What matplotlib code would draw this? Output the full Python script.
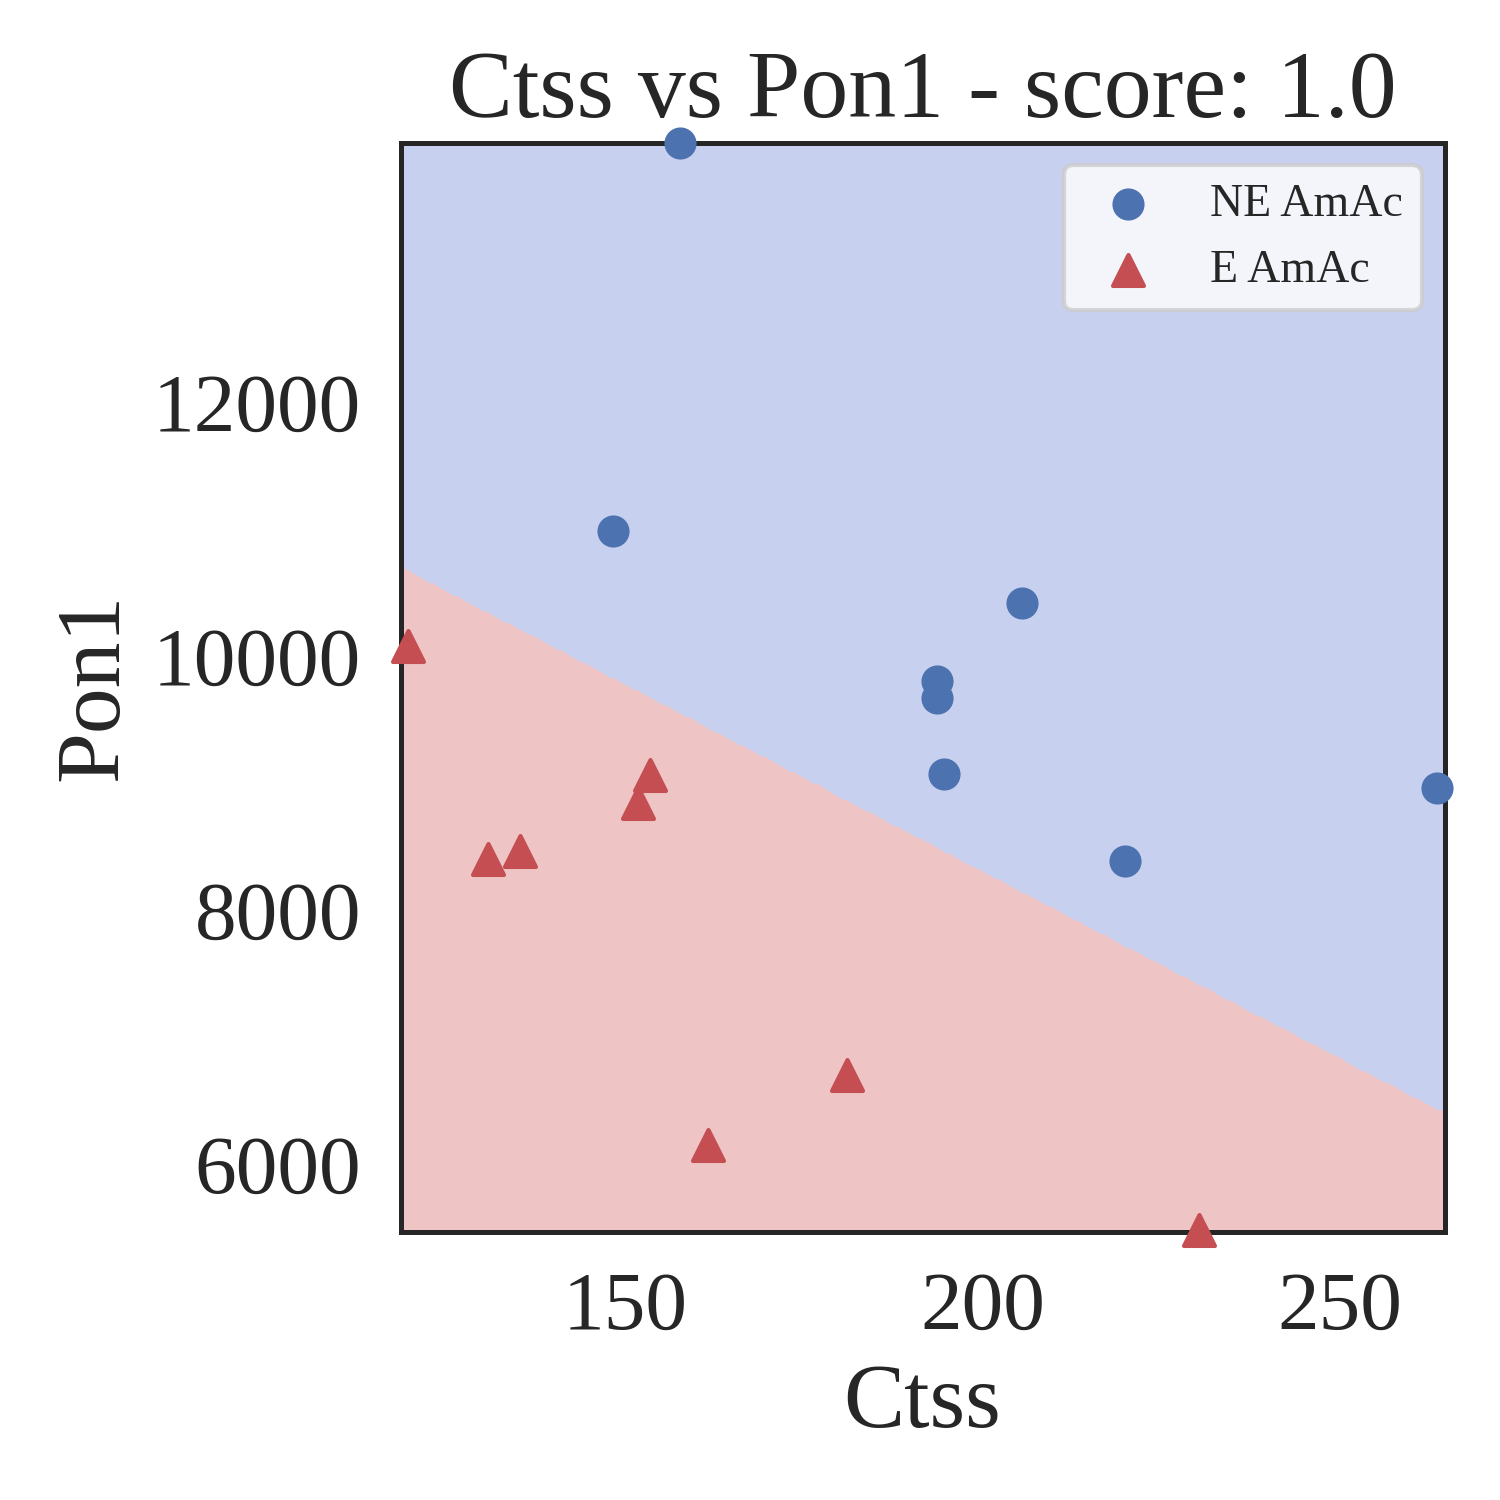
import numpy as np
import matplotlib
matplotlib.use("Agg")
import matplotlib.pyplot as plt
import seaborn as sns
from matplotlib.colors import ListedColormap

sns.set_theme(style="white")
plt.rcParams['font.family'] = ['Liberation Serif', 'DejaVu Serif']

ne_x = [157.7, 148.2, 205.5, 193.6, 193.6, 194.6, 219.9, 263.7]
ne_y = [14047, 10984, 10417, 9803, 9669, 9071, 8386, 8961]
e_x = [119.6, 153.5, 151.7, 130.8, 135.3, 181.0, 161.5, 230.3]
e_y = [10079, 9063, 8843, 8409, 8472, 6701, 6150, 5480]
# decision boundary: Pon1 value at left and right x limits
boundary_x = [118.5, 264.7]
boundary_y = [10709, 6409]

fig = plt.figure(figsize=(5, 5), dpi=300)
ax = fig.add_axes([0.267, 0.179, 0.696, 0.726])

xmin, xmax = min(ne_x + e_x), max(ne_x + e_x)
ymin, ymax = min(ne_y + e_y), max(ne_y + e_y)
xx, yy = np.meshgrid(np.linspace(boundary_x[0], boundary_x[1], 400),
                     np.linspace(ymin - 500, ymax + 500, 400))
slope = (boundary_y[1] - boundary_y[0]) / (boundary_x[1] - boundary_x[0])
zz = (yy > boundary_y[0] + slope * (xx - boundary_x[0])).astype(float)
ax.contourf(xx, yy, zz, levels=[-0.5, 0.5, 1.5],
            cmap=ListedColormap(['#eec4c4', '#c8d0f0']))

ax.scatter(ne_x, ne_y, marker='o', s=45, color='#4c72b0', label='NE AmAc', zorder=3, clip_on=False)
ax.scatter(e_x, e_y, marker='^', s=55, color='#c44e52', label='E AmAc', zorder=3, clip_on=False)

ax.set_xlim(118.5, 264.7)
ax.set_ylim(5472, 14047)
ax.set_xticks([150, 200, 250])
ax.set_yticks([6000, 8000, 10000, 12000])
ax.tick_params(labelsize=20)
ax.set_xlabel('Ctss', fontsize=22)
ax.set_ylabel('Pon1', fontsize=22)
ax.set_title('Ctss vs Pon1 - score: 1.0', fontsize=23)
for s in ax.spines.values():
    s.set_color('#262626')
    s.set_linewidth(1.2)
ax.legend(loc='upper right', fontsize=11, frameon=True)

fig.savefig('out.png', dpi=300)
